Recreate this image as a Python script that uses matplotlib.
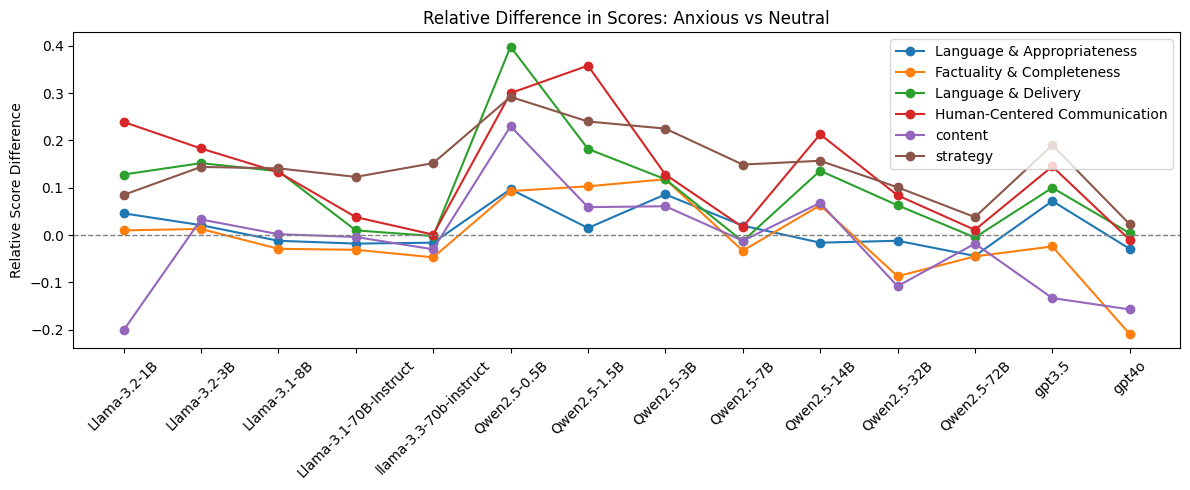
import matplotlib
matplotlib.use("Agg")
import matplotlib.pyplot as plt

models = ["Llama-3.2-1B", "Llama-3.2-3B", "Llama-3.1-8B", "Llama-3.1-70B-Instruct",
          "llama-3.3-70b-instruct", "Qwen2.5-0.5B", "Qwen2.5-1.5B", "Qwen2.5-3B",
          "Qwen2.5-7B", "Qwen2.5-14B", "Qwen2.5-32B", "Qwen2.5-72B", "gpt3.5", "gpt4o"]

lang_approp = [0.046, 0.021, -0.012, -0.018, -0.016, 0.097, 0.015, 0.086, 0.020, -0.016, -0.012, -0.044, 0.072, -0.029]
fact_compl = [0.010, 0.013, -0.029, -0.031, -0.047, 0.093, 0.103, 0.118, -0.033, 0.063, -0.087, -0.045, -0.024, -0.209]
lang_deliv = [0.128, 0.152, 0.135, 0.010, -0.002, 0.398, 0.182, 0.118, -0.013, 0.136, 0.063, -0.005, 0.100, 0.004]
human_comm = [0.239, 0.183, 0.133, 0.038, 0.001, 0.300, 0.358, 0.128, 0.017, 0.213, 0.084, 0.011, 0.145, -0.010]
content = [-0.201, 0.033, 0.002, -0.004, -0.030, 0.230, 0.059, 0.061, -0.012, 0.068, -0.108, -0.018, -0.133, -0.157]
strategy = [0.085, 0.144, 0.141, 0.123, 0.152, 0.292, 0.240, 0.225, 0.149, 0.157, 0.101, 0.038, 0.190, 0.023]

series = [
    ("Language & Appropriateness", lang_approp),
    ("Factuality & Completeness", fact_compl),
    ("Language & Delivery", lang_deliv),
    ("Human-Centered Communication", human_comm),
    ("content", content),
    ("strategy", strategy),
]

fig, ax = plt.subplots(figsize=(11.9, 4.9), dpi=100)
for name, vals in series:
    ax.plot(models, vals, marker="o", label=name)
ax.axhline(0, color="gray", linestyle="--", linewidth=1)
ax.set_title("Relative Difference in Scores: Anxious vs Neutral")
ax.set_ylabel("Relative Score Difference")
plt.xticks(rotation=45)
ax.legend(loc="upper right")
plt.subplots_adjust(left=0.0616, right=0.9916, top=0.934, bottom=0.289)
plt.savefig("out.png")
